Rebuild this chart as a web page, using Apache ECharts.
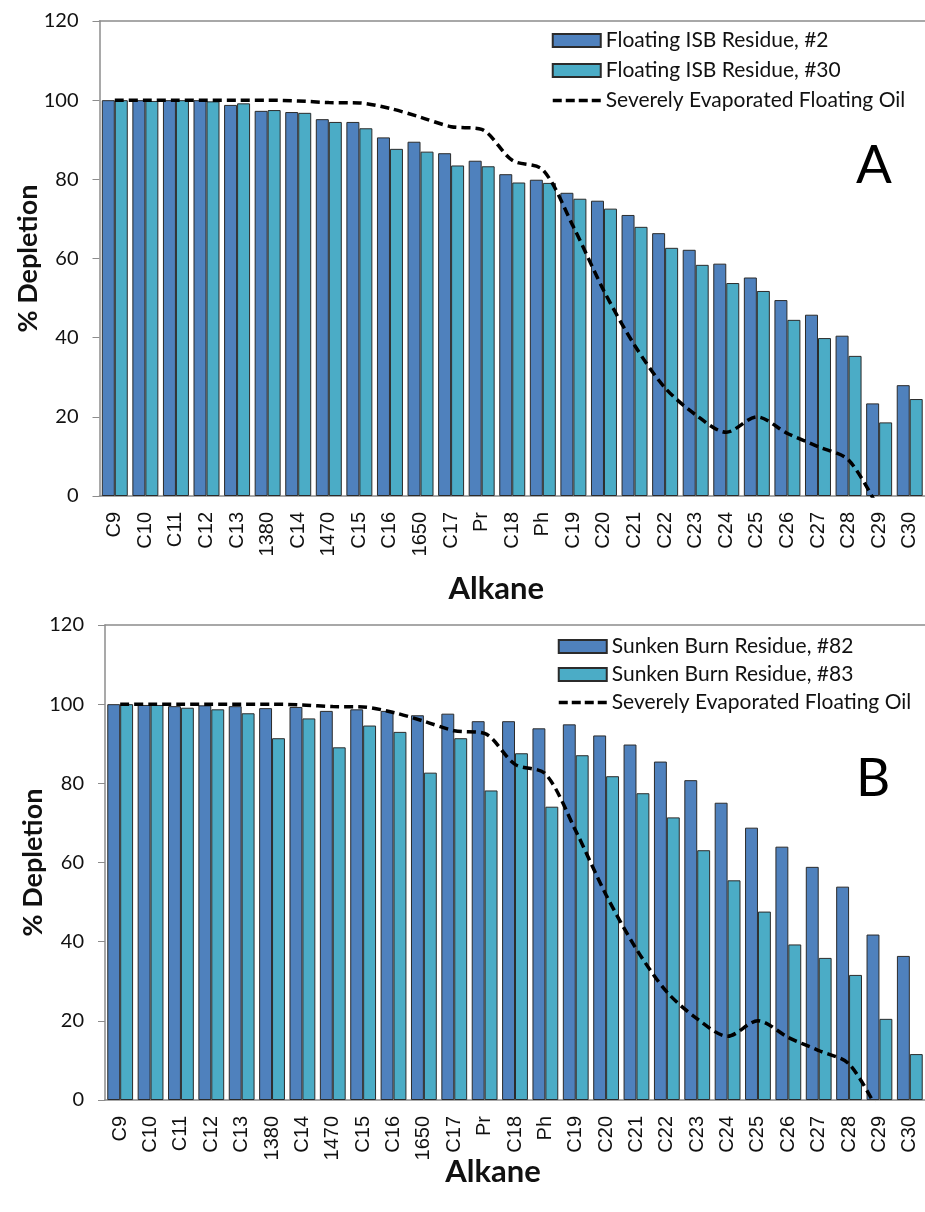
<!DOCTYPE html>
<html>
<head>
<meta charset="utf-8">
<script src="https://cdn.jsdelivr.net/npm/echarts@6/dist/echarts.min.js"></script>
<style>
html,body{margin:0;padding:0;background:#fff;}
#chart{width:925px;height:1212px;}
</style>
</head>
<body>
<div id="chart"></div>
<script>
const categories = ['C9','C10','C11','C12','C13','1380','C14','1470','C15','C16','1650','C17','Pr','C18','Ph','C19','C20','C21','C22','C23','C24','C25','C26','C27','C28','C29','C30'];
const yTicks = [0, 20, 40, 60, 80, 100, 120];

const floatingISB2  = [100,100,100,100,98.8,97.3,97.0,95.2,94.5,90.6,89.5,86.6,84.7,81.3,79.9,76.6,74.6,71.0,66.4,62.2,58.7,55.2,49.5,45.8,40.5,23.4,28.0];
const floatingISB30 = [100,99.8,100,99.7,99.2,97.5,96.8,94.5,92.9,87.7,87.0,83.5,83.3,79.2,79.1,75.1,72.6,68.0,62.7,58.4,53.8,51.8,44.5,39.9,35.4,18.6,24.5];
const evaporatedOil = [100,100,100,100,100,100,99.8,99.4,99.3,97.9,95.7,93.3,92.6,84.8,82.4,68.0,51.8,38.1,27.3,20.5,16.1,20.0,15.8,12.5,9.1,-3.5,null];
const sunkenBurn82  = [100,99.8,99.5,99.7,99.5,99.0,99.3,98.3,98.7,98.3,97.2,97.6,95.7,95.7,93.9,94.9,92.1,89.8,85.5,80.8,75.1,68.8,64.0,58.9,53.9,41.8,36.4];
const sunkenBurn83  = [100,99.8,99.1,98.7,97.7,91.4,96.4,89.1,94.6,93.0,82.7,91.4,78.2,87.6,74.1,87.1,81.8,77.5,71.4,63.1,55.5,47.6,39.3,35.9,31.6,20.5,11.6];

const names = {
  a1: 'Floating ISB Residue, #2',
  a2: 'Floating ISB Residue, #30',
  b1: 'Sunken Burn Residue, #82',
  b2: 'Sunken Burn Residue, #83',
  line: 'Severely Evaporated Floating Oil'
};

const FONT = 'Lato';
const BLUE = '#4f81bd', CYAN = '#4bacc6', AXIS = '#8c8c8c';

function xAxisMain(gi, shift, gap) {
  return {
    type: 'category', gridIndex: gi, data: categories,
    axisLine: {show: true, lineStyle: {color: AXIS, width: 1.5}},
    axisTick: {show: false},
    axisLabel: {interval: 0, rotate: 90, fontFamily: 'Liberation Sans', fontSize: 20, color: '#111', margin: 16},
    name: 'Alkane', nameLocation: 'middle', nameGap: gap, nameMoveOverlap: false,
    nameTextStyle: {fontFamily: FONT, fontWeight: 'bold', fontSize: 31, color: '#111', padding: [0, shift, 0, 0]}
  };
}
function xAxisTop(gi) {
  return {
    type: 'category', gridIndex: gi, data: categories, position: 'top',
    axisLine: {show: true, lineStyle: {color: AXIS, width: 1.5}},
    axisTick: {show: false}, axisLabel: {show: false}
  };
}
function yAxisMain(gi) {
  return {
    type: 'value', gridIndex: gi, min: yTicks[0], max: yTicks[yTicks.length - 1], interval: 20,
    axisLine: {show: true, lineStyle: {color: AXIS, width: 1.5}},
    axisTick: {show: true, length: 7, lineStyle: {color: AXIS}},
    splitLine: {show: false},
    axisLabel: {fontFamily: FONT, fontSize: 20, color: '#111', margin: 21},
    name: '% Depletion', nameLocation: 'middle', nameGap: 58, nameRotate: 90, nameMoveOverlap: false,
    nameTextStyle: {fontFamily: FONT, fontWeight: 'bold', fontSize: 27, color: '#111'}
  };
}
function barSeries(name, data, color, gi) {
  return {
    type: 'bar', name: name, data: data, xAxisIndex: gi * 2, yAxisIndex: gi,
    barGap: '0%', barCategoryGap: '15%',
    itemStyle: {color: color, borderColor: '#2b2b2b', borderWidth: 1},
    emphasis: {disabled: true}
  };
}
function lineSeries(gi) {
  return {
    type: 'line', name: names.line, data: evaporatedOil, xAxisIndex: gi * 2, yAxisIndex: gi,
    smooth: 0.3, symbol: 'none', clip: true,
    lineStyle: {color: '#000', width: 3.5, type: [9, 5]},
    itemStyle: {color: '#000'},
    z: 5
  };
}
function legend(items, left, top, gap) {
  return {
    orient: 'vertical', left: left, top: top, itemWidth: 48, itemHeight: 13, itemGap: gap,
    data: items.map(function (n) {
      return n === names.line
        ? {name: n, itemStyle: {opacity: 0}, lineStyle: {width: 3.5, type: [9, 4], color: '#000'}}
        : {name: n, icon: 'rect'};
    }),
    selectedMode: false,
    textStyle: {fontFamily: FONT, fontSize: 21, color: '#111'}
  };
}

const chart = echarts.init(document.getElementById('chart'), null, {renderer: 'canvas'});
chart.setOption({
  animation: false,
  backgroundColor: '#fff',
  grid: [
    {left: 99.5, top: 21, width: 827, height: 475},
    {left: 105, top: 625, width: 828, height: 475}
  ],
  xAxis: [xAxisMain(0, 32, 77), xAxisTop(0), xAxisMain(1, 44, 56), xAxisTop(1)],
  yAxis: [yAxisMain(0), yAxisMain(1)],
  legend: [
    legend([names.a1, names.a2, names.line], 546, 25, 9),
    legend([names.b1, names.b2, names.line], 552, 631, 7)
  ],
  graphic: [
    {type: 'text', left: 856, top: 139, style: {text: 'A', fontFamily: FONT, fontSize: 53, fill: '#000'}},
    {type: 'text', left: 856, top: 752, style: {text: 'B', fontFamily: FONT, fontSize: 53, fill: '#000'}}
  ],
  series: [
    barSeries(names.a1, floatingISB2, BLUE, 0),
    barSeries(names.a2, floatingISB30, CYAN, 0),
    lineSeries(0),
    barSeries(names.b1, sunkenBurn82, BLUE, 1),
    barSeries(names.b2, sunkenBurn83, CYAN, 1),
    lineSeries(1)
  ]
});
</script>
</body>
</html>
